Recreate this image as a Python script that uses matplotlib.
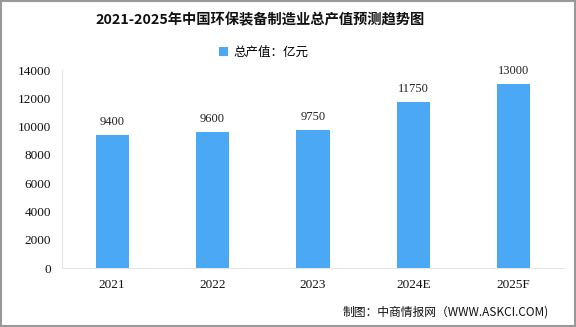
import matplotlib
matplotlib.use("Agg")
import matplotlib.pyplot as plt
from matplotlib.patches import Rectangle

years = ["2021", "2022", "2023", "2024E", "2025F"]
values = [9400, 9600, 9750, 11750, 13000]
yticks = [0, 2000, 4000, 6000, 8000, 10000, 12000, 14000]

bar_color = "#4AA8F4"
cjk = ["Noto Sans CJK SC", "DejaVu Sans"]
num = ["Liberation Serif", "Noto Sans CJK SC"]

fig = plt.figure(figsize=(5.76, 3.27), dpi=100)
fig.patch.set_facecolor("white")
ax = fig.add_axes([0.1076, 0.1804, 0.8714, 0.6055])

x = range(len(years))
bars = ax.bar(x, values, width=0.33, color=bar_color, label="总产值：亿元", zorder=3)
for xi, v in zip(x, values):
    ax.text(xi, v + 500, f"{v}", ha="center", va="bottom", fontsize=9,
            family=num, color="#222222")

ax.set_xlim(-0.5, len(years) - 0.5)
ax.set_ylim(0, 14000)
ax.set_yticks(yticks)
ax.set_yticklabels([str(t) for t in yticks], family=num, fontsize=9.5)
ax.set_xticks(list(x))
ax.set_xticklabels(years, family=num, fontsize=9.5)
ax.tick_params(axis="both", length=0, pad=8, colors="#111111")
ax.tick_params(axis="x", pad=8)

for s in ["top", "right"]:
    ax.spines[s].set_visible(False)
ax.spines["left"].set_color("#e6e6e6")
ax.spines["bottom"].set_color("#e6e6e6")

fig.text(0.452, 0.939, "2021-2025年中国环保装备制造业总产值预测趋势图", ha="center",
         va="center", fontsize=10.3, fontweight="bold", family=cjk, color="#111111")

leg = fig.legend(handles=[bars], labels=["总产值：亿元"], loc="center",
                 bbox_to_anchor=(0.458, 0.84), frameon=False, prop={"family": cjk, "size": 9},
                 handlelength=0.7, handleheight=0.7, handletextpad=0.4)

fig.text(0.952, 0.045, "制图：中商情报网（WWW.ASKCI.COM)", ha="right", va="center",
         fontsize=8.5, family=cjk, color="#111111")

fig.patches.append(Rectangle((0.002, 0.003), 0.996, 0.994, transform=fig.transFigure,
                             fill=False, edgecolor="#999999", linewidth=1.5))

fig.savefig("out.png", dpi=100, facecolor="white")
